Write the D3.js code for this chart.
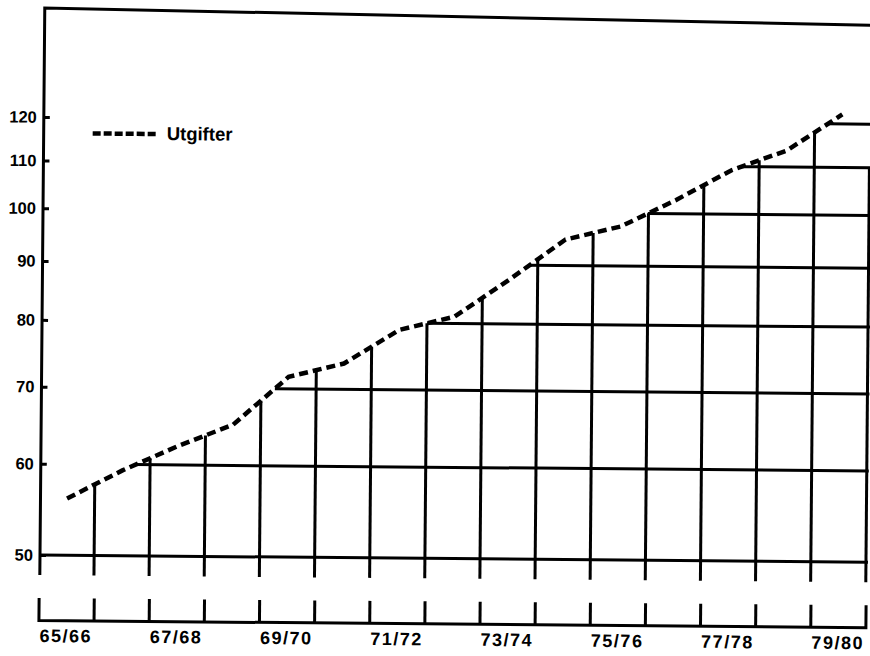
<!DOCTYPE html>
<html>
<head>
<meta charset="utf-8">
<script src="https://cdn.jsdelivr.net/npm/d3@7"></script>
<style>
  html, body { margin: 0; padding: 0; background: #fff; }
  svg { display: block; font-family: "Liberation Sans", Arial, sans-serif; }
</style>
</head>
<body>
<script>
// ---- data ----
const years = ["65/66","66/67","67/68","68/69","69/70","70/71","71/72","72/73",
               "73/74","74/75","75/76","76/77","77/78","78/79","79/80"];
const utgifter = [56.0, 59.3, 62.3, 65.1, 71.7, 73.7, 78.9, 81.1,
                  87.5, 94.8, 97.4, 102.8, 109.2, 113.7, 122.3];
const yTicks = [50, 60, 70, 80, 90, 100, 110, 120];
const labelYears = ["65/66","67/68","69/70","71/72","73/74","75/76","77/78","79/80"];
const seriesName = "Utgifter";

// ---- layout ----
const W = 870, H = 656;
const left = 39, right = 866, plotBottom = 575, axisY = 620;
const svg = d3.select("body").append("svg").attr("width", W).attr("height", H);
const g = svg.append("g").attr("transform", "rotate(0.5,40,555)");

const x = d3.scaleBand().domain(years).range([left, right]).padding(0);
const xb = d3.scaleLinear().domain([0, years.length]).range([left, right]);
const y = d3.scaleLog().domain([50, 120]).range([555, 117]);

const pts = years.map((d, i) => [x(d) + x.bandwidth() / 2, y(utgifter[i])]);

const LW = 3;

// frame: left axis + top line
g.append("path")
  .attr("d", `M40,${plotBottom}V8L870,18`)
  .attr("fill", "none").attr("stroke", "#000").attr("stroke-width", LW);

// horizontal grid lines start where the curve crosses the value
function crossX(v) {
  const yy = y(v);
  for (let i = 1; i < pts.length; i++) {
    const [x0, y0] = pts[i - 1], [x1, y1] = pts[i];
    if ((y0 - yy) * (y1 - yy) <= 0 && y0 !== y1) {
      return x0 + (x1 - x0) * (yy - y0) / (y1 - y0);
    }
  }
  return 40;
}
g.append("g").selectAll("line").data(yTicks).join("line")
  .attr("x1", d => d === 50 ? 40 : crossX(d))
  .attr("x2", 868)
  .attr("y1", d => y(d)).attr("y2", d => y(d))
  .attr("stroke", "#000").attr("stroke-width", LW);

// vertical lines at year boundaries, from the curve down
const bounds = d3.range(1, years.length);
g.append("g").selectAll("line").data(bounds).join("line")
  .attr("x1", i => xb(i)).attr("x2", i => xb(i))
  .attr("y1", i => (pts[i - 1][1] + pts[i][1]) / 2)
  .attr("y2", plotBottom)
  .attr("stroke", "#000").attr("stroke-width", LW);
g.append("line")
  .attr("x1", xb(years.length)).attr("x2", xb(years.length))
  .attr("y1", y(110)).attr("y2", plotBottom)
  .attr("stroke", "#000").attr("stroke-width", LW);

// left axis ticks + labels
const ya = g.append("g").attr("transform", "translate(40,0)")
  .call(d3.axisLeft(y).tickValues(yTicks).tickFormat(d3.format("d"))
        .tickSizeInner(-6).tickSizeOuter(0).tickPadding(7));
ya.select(".domain").remove();
ya.selectAll("line").attr("stroke", "#000").attr("stroke-width", LW);
ya.selectAll("text").attr("fill", "#000")
  .style("font-family", "'Liberation Sans', Arial, sans-serif")
  .style("font-size", "16.5px").style("font-weight", "bold");

// bottom axis (separate), ticks upward at boundaries
const xa = g.append("g").attr("transform", `translate(0,${axisY})`)
  .call(d3.axisBottom(xb).tickValues(d3.range(1, years.length))
        .tickFormat("").tickSizeInner(-22).tickSizeOuter(-22));
xa.selectAll("line, path").attr("stroke", "#000").attr("stroke-width", LW);

g.append("g").selectAll("text").data(labelYears).join("text")
  .attr("x", d => x(d) + x.bandwidth() / 2)
  .attr("y", 642)
  .attr("text-anchor", "middle")
  .style("font-size", "18px").style("font-weight", "bold")
  .style("letter-spacing", "1.5px")
  .attr("fill", "#000")
  .text(d => d);

// data line
g.append("path")
  .attr("d", d3.line()(pts))
  .attr("fill", "none").attr("stroke", "#000")
  .attr("stroke-width", 4.5).attr("stroke-dasharray", "9,5");

// legend
g.append("line")
  .attr("x1", 89).attr("x2", 153).attr("y1", 133).attr("y2", 133)
  .attr("stroke", "#000").attr("stroke-width", 4.5).attr("stroke-dasharray", "8,3");
g.append("text")
  .attr("x", 163).attr("y", 139)
  .style("font-size", "18.5px").style("font-weight", "bold")
  .attr("fill", "#000")
  .text(seriesName);
</script>
</body>
</html>
